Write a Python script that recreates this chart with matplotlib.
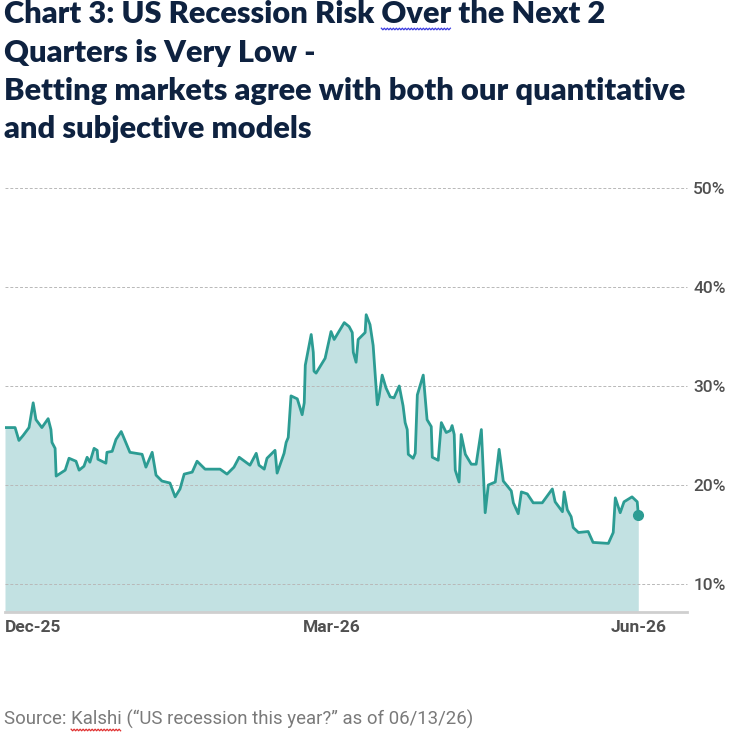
import matplotlib
matplotlib.use("Agg")
import matplotlib.pyplot as plt
import numpy as np
from matplotlib.lines import Line2D

# ---- data (days since 2025-12-13, recession probability in %) ----
days = [0, 2.9, 4.0, 5.2, 6.9, 8.1, 8.9, 10.6, 12.4, 13.2, 13.5, 14.4, 14.7, 17.3, 18.4,
        20.4, 21.3, 22.7, 23.6, 24.4, 25.6, 26.5, 26.7, 29.0, 29.3, 30.8, 31.9, 33.4,
        35.9, 39.4, 40.5, 42.3, 43.4, 45.1, 47.4, 48.9, 50.3, 51.5, 53.8, 55.2, 57.5,
        61.8, 63.8, 65.8, 67.3, 70.4, 72.2, 73.0, 74.5, 75.3, 77.6, 78.2, 80.2, 80.8,
        81.4, 82.2, 84.0, 85.4, 86.0, 86.3, 88.0, 88.6, 88.8, 89.4, 92.0, 93.7, 94.6,
        97.5, 98.9, 99.8, 100.1, 100.9, 101.5, 103.5, 103.8, 104.9, 105.8, 106.1, 107.0,
        107.5, 108.4, 109.5, 110.7, 111.8, 113.3, 114.4, 115.0, 115.6, 115.9, 117.3,
        117.9, 118.5, 120.2, 121.3, 122.5, 122.8, 124.5, 125.4, 126.8, 128.0, 128.5,
        129.1, 129.4, 130.5, 131.1, 132.3, 134.0, 135.4, 136.9, 138.0, 138.9, 140.9,
        142.0, 143.2, 145.5, 146.1, 147.5, 148.4, 150.1, 151.8, 154.4, 157.3, 158.1,
        160.2, 160.7, 161.6, 162.7, 163.3, 164.8, 167.6, 169.0, 173.4, 174.8, 175.4,
        176.8, 177.9, 180.2, 181.7, 182.0]
risk = [25.8, 25.8, 24.5, 25.0, 25.8, 28.3, 26.6, 25.8, 26.7, 25.6, 24.3, 23.7, 20.9, 21.5, 22.7,
        22.4, 21.5, 21.9, 22.8, 22.3, 23.7, 23.5, 22.6, 22.2, 23.3, 23.4, 24.6, 25.4,
        23.3, 23.1, 21.8, 23.3, 21.0, 20.4, 20.2, 18.8, 19.6, 21.1, 21.3, 22.4, 21.6,
        21.6, 21.1, 21.8, 22.8, 22.0, 23.2, 22.0, 21.6, 22.7, 23.5, 21.2, 23.2, 24.3,
        24.8, 29.0, 28.7, 27.1, 28.3, 32.1, 35.2, 33.4, 31.5, 31.3, 32.8, 35.5, 34.7,
        36.4, 36.0, 35.4, 33.4, 32.4, 34.7, 35.4, 37.2, 36.2, 34.1, 32.6, 28.1,
        28.9, 31.1, 29.8, 28.9, 28.8, 30.0, 28.0, 26.3, 25.6, 23.1, 22.7,
        23.2, 29.1, 31.1, 26.6, 25.9, 22.8, 22.5, 26.3, 25.3, 25.5, 26.0,
        25.1, 21.5, 20.3, 25.1, 23.1, 22.1, 22.1, 25.6, 17.2, 20.0, 20.3,
        23.6, 20.4, 19.4, 18.2, 17.1, 19.3, 19.1, 18.2, 18.2, 19.6, 18.3,
        17.3, 19.3, 17.5, 16.8, 15.7, 15.2, 15.3, 14.2, 14.1, 15.2, 18.7,
        17.2, 18.3, 18.8, 18.3, 17.0]

y_ticks = [10, 20, 30, 40, 50]
y_tick_labels = ["10%", "20%", "30%", "40%", "50%"]
x_tick_pos = [0, 94, 182]
x_tick_labels = ["Dec-25", "Mar-26", "Jun-26"]

title_lines = ["Chart 3: US Recession Risk Over the Next 2",
               "Quarters is Very Low -",
               "Betting markets agree with both our quantitative",
               "and subjective models"]
source_text = "Source: Kalshi (\u201cUS recession this year?\u201d as of 06/13/26)"

# ---- figure ----
W, H = 733, 734
fig = plt.figure(figsize=(W / 100, H / 100), dpi=100)
ax = fig.add_axes([5 / W, 1 - 612 / H, (687 - 5) / W, (612 - 188) / H])

line_c = "#2c9c93"
fill_c = "#c2e1e2"
ax.fill_between(days, risk, 0, color=fill_c, lw=0, zorder=1)
ax.plot(days, risk, color=line_c, lw=2.0, zorder=3)
ax.plot([days[-1]], [risk[-1]], "o", ms=7, color=line_c, zorder=4)

ax.set_xlim(0, 196)
ax.set_ylim(7.17, 50)

for yv in y_ticks:
    ax.axhline(yv, color="#b8b8b8", lw=0.7, ls=(0, (3, 2)), zorder=2, clip_on=False)

for s in ["top", "left", "right"]:
    ax.spines[s].set_visible(False)
ax.spines["bottom"].set_color("#cfcfcf")
ax.spines["bottom"].set_linewidth(2)

ax.yaxis.tick_right()
ax.set_yticks(y_ticks)
ax.set_yticklabels(y_tick_labels, family="Roboto", fontsize=12.5, fontweight="medium",
                   color="#505050")
ax.tick_params(axis="y", length=0, pad=4.5)

ax.set_xticks(x_tick_pos)
ax.set_xticklabels(x_tick_labels, family="Roboto", fontsize=12.5, fontweight="bold",
                   color="#505050")
ax.tick_params(axis="x", length=0, pad=6)
ax.get_xticklabels()[0].set_ha("left")

# ---- title ----
title_color = "#0e2240"
baselines = [23, 62, 100, 138]
title_kw = dict(family="Lato", fontweight="heavy", color=title_color, va="baseline", ha="left")
texts = []
for ln, b in zip(title_lines, baselines):
    t = fig.text(4 / W, 1 - b / H, ln, fontsize=20, **title_kw)
    texts.append(t)
fig.canvas.draw()
r = fig.canvas.get_renderer()
w = texts[2].get_window_extent(r).width
tsize = 20 * 681 / w
for t in texts:
    t.set_fontsize(tsize)

src_kw = dict(family="Roboto", fontweight="normal", color="#7a7a7a", va="baseline", ha="left")
src = fig.text(4 / W, 1 - 725 / H, source_text, fontsize=13, **src_kw)
fig.canvas.draw()
w2 = src.get_window_extent(r).width
ssize = 13 * 469 / w2
src.set_fontsize(ssize)
fig.canvas.draw()


def text_width(s, size, kw):
    t = fig.text(0, 0, s, fontsize=size, **kw)
    wd = t.get_window_extent(r).width
    t.remove()
    return wd


def squiggle(x0, x1, y_px, color):
    xs = np.arange(x0, x1 + 0.01, 1.5)
    ys = y_px + np.where(np.arange(len(xs)) % 2 == 0, -0.8, 0.8)
    fig.add_artist(Line2D(xs / W, 1 - ys / H, color=color, lw=0.9,
                          transform=fig.transFigure))


# spell-check underline marks seen in the reference
pre = text_width("Chart 3: US Recession Risk ", tsize, title_kw)
ov = text_width("Over", tsize, title_kw)
squiggle(4 + pre, 4 + pre + ov, 29, "#3a3ae0")
pre2 = text_width("Source: ", ssize, src_kw)
ks = text_width("Kalshi", ssize, src_kw)
squiggle(4 + pre2, 4 + pre2 + ks, 730, "#e03030")

fig.savefig("out.png", dpi=100)
